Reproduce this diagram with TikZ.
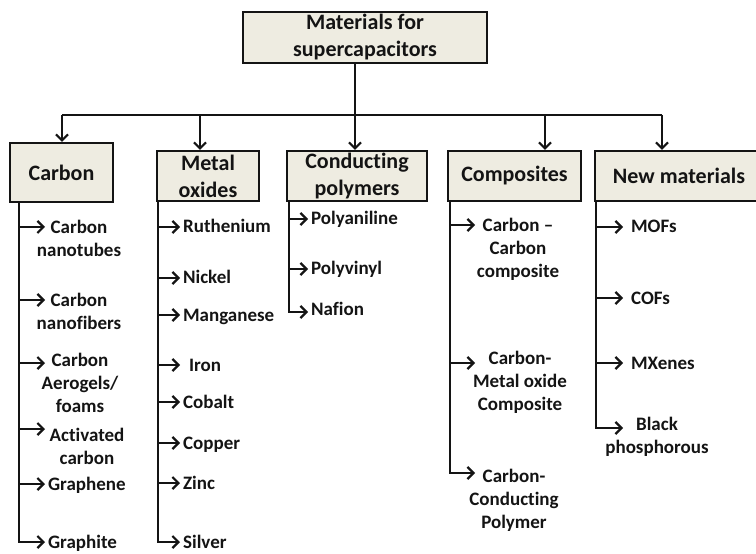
\documentclass[tikz,border=0pt]{standalone}
\usepackage{fontspec}
\setmainfont{Carlito}[Ligatures={NoCommon}]
\usetikzlibrary{arrows.meta}
\definecolor{boxfill}{RGB}{238,236,225}
\definecolor{ink}{RGB}{20,20,20}

\begin{document}
\begin{tikzpicture}[x=1bp,y=-1bp,line width=2.2bp,color=ink,
    hdr/.style={draw,fill=boxfill,align=center,inner sep=0pt,
      font=\fontsize{22bp}{27bp}\selectfont\bfseries},
    item/.style={align=center,inner sep=2bp,
      font=\fontsize{19bp}{23bp}\selectfont\bfseries},
    single/.style={item,anchor=base west,yshift=-6bp},
    arr/.style={-{Straight Barb[length=6bp,width=12bp]}}]
  \useasboundingbox (0,0) rectangle (756,554);

  \node[hdr,minimum width=244bp,minimum height=51bp] (top) at (365,37.5) {Materials for\\supercapacitors};
  \node[hdr,minimum width=103bp,minimum height=59bp] (carbon) at (61.5,172.5) {Carbon};
  \node[hdr,minimum width=102bp,minimum height=50bp] (metal) at (208,176) {Metal\\oxides};
  \node[hdr,minimum width=140bp,minimum height=50bp] (poly) at (357,176) {Conducting\\polymers};
  \node[hdr,minimum width=133bp,minimum height=50bp] (comp) at (514.5,176) {Composites};
  \node[hdr,minimum width=168bp,minimum height=50bp] (newm) at (679,176) {New materials};

  \coordinate (hub) at (355,115);
  \draw (top.south -| hub) -- (hub);
  \draw (62,0 |- hub) -- (662,0 |- hub);
  \foreach \x/\n in {62/carbon,200/metal,355/poly,545/comp,662/newm}
    \draw[arr] (\x,0 |- hub) -- (\x,0 |- \n.north);

  % carbon
  \coordinate (c-sp) at (19,0 |- carbon.south);
  \foreach \y/\cx/\cy/\t [count=\i] in {227/79/238.5/{Carbon\\nanotubes},300/79/311.5/{Carbon\\nanofibers},
      363/80/383/{Carbon\\Aerogels/\\foams},429/87/446/{Activated\\carbon}}{
    \coordinate (c-t\i) at (45,\y);
    \draw[arr] (c-sp |- c-t\i) -- (c-t\i);
    \node[item] (c-\i) at (\cx,\cy) {\t};
  }
  \coordinate (c-t5) at (45,484);
  \draw[arr] (c-sp |- c-t5) -- (c-t5) node[single] (c-5) {Graphene};
  \coordinate (c-t6) at (45,542);
  \draw[arr] (c-sp) |- (c-t6) node[single] (c-6) {Graphite};

  % metal oxides
  \coordinate (m-sp) at (158,0 |- metal.south);
  \foreach \y/\t [count=\i] in {227/Ruthenium,278/Nickel,315/Manganese,365/{\kern6bp Iron},
      402/Cobalt,443/Copper,483/Zinc}{
    \coordinate (m-t\i) at (180,\y);
    \draw[arr] (m-sp |- m-t\i) -- (m-t\i) node[single] (m-\i) {\t};
  }
  \coordinate (m-t8) at (180,542);
  \draw[arr] (m-sp) |- (m-t8) node[single] (m-8) {Silver};

  % polymers
  \coordinate (p-sp) at (289,0 |- poly.south);
  \foreach \y/\t [count=\i] in {219/Polyaniline,269/Polyvinyl}{
    \coordinate (p-t\i) at (308,\y);
    \draw[arr] (p-sp |- p-t\i) -- (p-t\i) node[single] (p-\i) {\t};
  }
  \coordinate (p-t3) at (308,312);
  \draw[arr] (p-sp) |- (p-t3) node[single,yshift=3bp] (p-3) {Nafion};

  % composites
  \coordinate (k-sp) at (450,0 |- comp.south);
  \foreach \y/\cx/\cy/\t [count=\i] in {225/518/249/{Carbon –\\Carbon\\composite},
      363/520/382/{Carbon-\\Metal oxide\\Composite}}{
    \coordinate (k-t\i) at (475,\y);
    \draw[arr] (k-sp |- k-t\i) -- (k-t\i);
    \node[item] (k-\i) at (\cx,\cy) {\t};
  }
  \coordinate (k-t3) at (475,473);
  \draw[arr] (k-sp) |- (k-t3);
  \node[item] (k-3) at (514,500) {Carbon-\\Conducting\\Polymer};

  % new materials
  \coordinate (n-sp) at (596,0 |- newm.south);
  \foreach \y/\t [count=\i] in {227/MOFs,298/COFs,363/MXenes}{
    \coordinate (n-t\i) at (623,\y);
    \draw[arr] (n-sp |- n-t\i) -- (n-t\i) node[single,xshift=5bp] (n-\i) {\t};
  }
  \coordinate (n-t4) at (623,428);
  \draw[arr] (n-sp) |- (n-t4);
  \node[item] (n-4) at (657,437) {Black\\phosphorous};
\end{tikzpicture}
\end{document}
